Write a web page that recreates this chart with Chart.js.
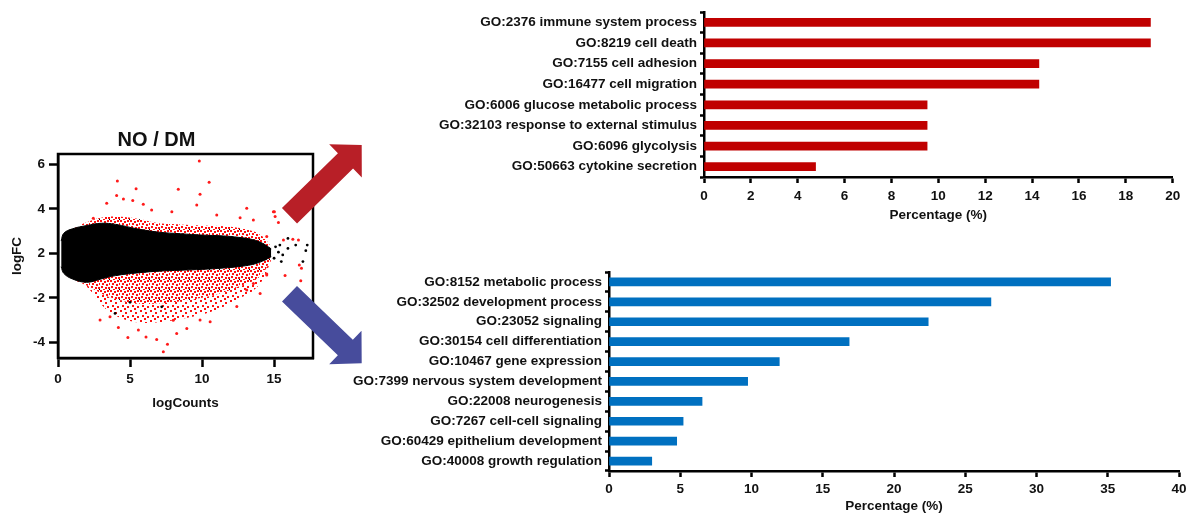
<!DOCTYPE html>
<html>
<head>
<meta charset="utf-8">
<title>NO / DM - MA plot and GO terms</title>
<script src="https://cdn.jsdelivr.net/npm/chart.js@4.4.0/dist/chart.umd.min.js"></script>
<style>
  html, body { margin: 0; padding: 0; background: #fff; }
  #page { position: relative; width: 1192px; height: 518px; overflow: hidden; }
  canvas { position: absolute; }
</style>
</head>
<body>
<div id="page">
  <canvas id="maPlot" width="370" height="310" style="left:0;top:110px"></canvas>
  <canvas id="upChart" width="812" height="230" style="left:380px;top:0"></canvas>
  <canvas id="downChart" width="892" height="263" style="left:300px;top:255px"></canvas>
</div>
<script>
// ---- MA plot (NO / DM) ----
const maTickX = [0, 5, 10, 15];
const maTickY = [4, 2, 0, -2, -4];
const maTickYLabels = ['6', '4', '2', '-2', '-4'];

// outline of the dense cloud
const cloudX         = [0.22, 0.4, 1.0, 2.0, 3.0, 4.0, 5.5, 7.0, 8.5, 10.0, 11.5, 12.5, 13.5, 14.2, 14.8];
const blackTop       = [0.55, 0.9, 1.1, 1.25, 1.35, 1.3, 1.1, 0.95, 0.88, 0.82, 0.78, 0.72, 0.62, 0.45, 0.2];
const blackBottom    = [-0.6, -0.9, -1.15, -1.3, -1.15, -1.0, -0.88, -0.8, -0.76, -0.72, -0.66, -0.6, -0.5, -0.35, -0.15];
const redTop         = [0.55, 0.9, 1.1, 1.4, 1.6, 1.65, 1.55, 1.35, 1.3, 1.25, 1.22, 1.15, 1.0, 0.75, 0.3];
const redBottomInner = [-0.6, -0.9, -1.15, -1.45, -1.8, -2.05, -2.25, -2.25, -2.15, -2.0, -1.75, -1.5, -1.25, -0.9, -0.25];
const redBottom      = [-0.6, -0.9, -1.15, -1.5, -2.3, -2.8, -3.1, -3.1, -2.95, -2.75, -2.4, -2.05, -1.7, -1.2, -0.3];

// isolated points
const redOutX = [9.81, 4.12, 10.49, 5.42, 8.35, 9.86, 4.07, 4.54, 5.19, 3.38, 13.1, 5.92, 9.63, 6.5, 12.64, 7.9, 11.02, 2.45, 13.56, 14.95, 15.07, 14.49,
                 15.02, 15.3, 15.65, 16.3, 16.69, 16.75, 16.9, 14.49, 15.76, 16.85,
                 7.31, 7.6, 4.85, 6.85, 6.11, 4.19, 8.24, 8.94, 9.86, 10.56, 8.0, 2.92, 12.41, 13.1, 14.03, 14.49, 13.56, 3.61, 5.58];
const redOutY = [4.15, 3.25, 3.19, 2.9, 2.88, 2.65, 2.6, 2.44, 2.37, 2.25, 2.02, 2.2, 2.17, 1.95, 1.6, 1.87, 1.72, 1.57, 1.5, 1.87, 1.65, 0.75,
                 1.87, 1.38, 0.6, 0.63, 0.6, -0.52, -0.67, -0.93, -1.0, -1.23,
                 -4.42, -4.08, -3.78, -3.87, -3.76, -3.33, -3.6, -3.37, -2.99, -3.07, -3.0, -2.99, -2.39, -1.65, -1.8, -0.97, -1.35, -2.85, -3.44];
const blackOutX = [14.3, 14.6, 15.1, 15.4, 15.96, 16.5, 17.3, 17.2, 15.96, 15.6, 15.0, 17.0, 15.5, 14.4, 15.3, 3.96, 5.0, 7.2];
const blackOutY = [0.3, 0.1, 0.29, 0.37, 0.67, 0.37, 0.37, 0.12, 0.22, -0.07, -0.22, -0.37, -0.37, -0.25, 0.05, -2.7, -2.2, -2.4];

// ---- GO terms, up-regulated ----
const upTerms = ['GO:2376 immune system process', 'GO:8219 cell death', 'GO:7155 cell adhesion', 'GO:16477 cell migration',
                 'GO:6006 glucose metabolic process', 'GO:32103 response to external stimulus', 'GO:6096 glycolysis', 'GO:50663 cytokine secretion'];
const upPercent = [19.05, 19.05, 14.29, 14.29, 9.52, 9.52, 9.52, 4.76];
const upTicks = [0, 2, 4, 6, 8, 10, 12, 14, 16, 18, 20];

// ---- GO terms, down-regulated ----
const downTerms = ['GO:8152 metabolic process', 'GO:32502 development process', 'GO:23052 signaling', 'GO:30154 cell differentiation',
                   'GO:10467 gene expression', 'GO:7399 nervous system development', 'GO:22008 neurogenesis', 'GO:7267 cell-cell signaling',
                   'GO:60429 epithelium development', 'GO:40008 growth regulation'];
const downPercent = [35.2, 26.8, 22.4, 16.85, 11.95, 9.73, 6.53, 5.2, 4.75, 3.0];
const downTicks = [0, 5, 10, 15, 20, 25, 30, 35, 40];

const FONT = "'Liberation Sans', Arial, sans-serif";
const INK = '#111';
Chart.defaults.font.family = FONT;
Chart.defaults.color = INK;

function zip(xs, ys) {
  return xs.map((x, i) => ({ x: x, y: ys[i] }));
}

// speckled fill for the red (significant) part of the cloud
function speckle(color, dots, extra) {
  const c = document.createElement('canvas');
  c.width = 10; c.height = 10;
  const g = c.getContext('2d');
  g.fillStyle = color;
  dots.forEach(p => g.fillRect(p[0], p[1], 2, 2));
  if (extra) {
    g.fillStyle = '#000';
    g.fillRect(extra[0], extra[1], 2, 2);
  }
  return g.createPattern(c, 'repeat');
}

const denseDots = [[0, 0], [4, 1], [7, 0], [2, 3], [6, 4], [9, 3], [1, 6], [5, 7], [8, 7], [3, 9]];
const sparseDots = [[0, 0], [5, 2], [2, 5], [7, 6], [4, 8]];

const boldFont = (size) => ({ family: FONT, size: size, weight: 'bold' });

// closed frame around the MA plot + the two arrows
const frameAndArrows = {
  id: 'frameAndArrows',
  afterDraw(chart) {
    const ctx = chart.ctx;
    const a = chart.chartArea;
    ctx.save();
    ctx.strokeStyle = '#000';
    ctx.lineWidth = 2.5;
    ctx.strokeRect(a.left, a.top, a.right - a.left, a.bottom - a.top);
    // arrows, in canvas coords (canvas sits 110px down the page)
    drawArrow(ctx, 289.5, 105.8, 361.7, 35, 10.8, 23.3, 22.7, '#b81f27');
    drawArrow(ctx, 289.5, 183.8, 361.7, 253.3, 10.8, 23.3, 22.7, '#474c9c');
    ctx.restore();
  }
};

function drawArrow(ctx, x0, y0, x1, y1, shaftHalf, headHalf, headLen, color) {
  const len = Math.hypot(x1 - x0, y1 - y0);
  const dx = (x1 - x0) / len, dy = (y1 - y0) / len;
  const nx = -dy, ny = dx;
  const bx = x1 - dx * headLen, by = y1 - dy * headLen;
  ctx.beginPath();
  ctx.moveTo(x0 + nx * shaftHalf, y0 + ny * shaftHalf);
  ctx.lineTo(bx + nx * shaftHalf, by + ny * shaftHalf);
  ctx.lineTo(bx + nx * headHalf, by + ny * headHalf);
  ctx.lineTo(x1, y1);
  ctx.lineTo(bx - nx * headHalf, by - ny * headHalf);
  ctx.lineTo(bx - nx * shaftHalf, by - ny * shaftHalf);
  ctx.lineTo(x0 - nx * shaftHalf, y0 - ny * shaftHalf);
  ctx.closePath();
  ctx.fillStyle = color;
  ctx.fill();
}

const denseRed = speckle('#ff1010', denseDots, [9, 9]);
const sparseRed = speckle('#ff1010', sparseDots);
const edge = { type: 'line', pointRadius: 0, borderWidth: 1, tension: 0.4 };
const clear = 'rgba(0,0,0,0)';

new Chart(document.getElementById('maPlot'), {
  type: 'scatter',
  data: {
    datasets: [
      { label: 'up/down', data: zip(redOutX, redOutY), backgroundColor: '#ff1a1a', borderWidth: 0, pointRadius: 1.5 },
      { label: 'ns', data: zip(blackOutX, blackOutY), backgroundColor: '#000', borderWidth: 0, pointRadius: 1.4 },
      { ...edge, label: 'cloud top', data: zip(cloudX, blackTop), borderColor: '#000', fill: false },
      { ...edge, label: 'cloud bottom', data: zip(cloudX, blackBottom), borderColor: '#000', fill: 2, backgroundColor: '#000' },
      { ...edge, label: 'red top', data: zip(cloudX, redTop), borderColor: clear, fill: 2, backgroundColor: denseRed },
      { ...edge, label: 'red bottom inner', data: zip(cloudX, redBottomInner), borderColor: clear, fill: 3, backgroundColor: denseRed },
      { ...edge, label: 'red bottom', data: zip(cloudX, redBottom), borderColor: clear, fill: 5, backgroundColor: sparseRed }
    ]
  },
  options: {
    responsive: false,
    animation: false,
    events: [],
    layout: { padding: { left: 0, right: 57, top: 0, bottom: 0 } },
    plugins: {
      legend: { display: false },
      tooltip: { enabled: false },
      title: { display: true, text: 'NO / DM', font: boldFont(20), color: INK, padding: { top: 18, bottom: 2 } }
    },
    scales: {
      x: {
        type: 'linear', min: 0, max: 17.7,
        afterBuildTicks: (s) => { s.ticks = maTickX.map(v => ({ value: v })); },
        afterFit: (s) => { s.height = 62; },
        border: { color: '#000', width: 2.5 },
        grid: { drawOnChartArea: false, tickLength: 9, tickWidth: 2.5, tickColor: '#000' },
        ticks: { font: boldFont(13.5), color: INK, padding: 4, maxRotation: 0 },
        title: { display: true, text: 'logCounts', font: boldFont(13.5), color: INK, padding: { top: 0, bottom: 9 } }
      },
      y: {
        type: 'linear', min: -4.7, max: 4.46,
        afterBuildTicks: (s) => { s.ticks = maTickY.map(v => ({ value: v })); },
        afterFit: (s) => { s.width = 58; },
        border: { color: '#000', width: 2.5 },
        grid: { drawOnChartArea: false, tickLength: 9, tickWidth: 2.5, tickColor: '#000' },
        ticks: { font: boldFont(13.5), color: INK, padding: 4, callback: (v) => maTickYLabels[maTickY.indexOf(v)] },
        title: { display: true, text: 'logFC', font: boldFont(13.5), color: INK, padding: { top: 9, bottom: 0 } }
      }
    }
  },
  plugins: [frameAndArrows]
});

// horizontal GO bar chart
function goChart(id, terms, values, ticks, max, color, box) {
  return new Chart(document.getElementById(id), {
    type: 'bar',
    data: {
      labels: terms,
      datasets: [{ data: values, backgroundColor: color, borderWidth: 0, barThickness: 8 }]
    },
    options: {
      indexAxis: 'y',
      responsive: false,
      animation: false,
      events: [],
      layout: { padding: { left: 0, right: box.right, top: box.top, bottom: 0 } },
      plugins: { legend: { display: false }, tooltip: { enabled: false } },
      scales: {
        x: {
          type: 'linear', min: 0, max: max,
          afterBuildTicks: (s) => { s.ticks = ticks.map(v => ({ value: v })); },
          afterFit: (s) => { s.height = box.xHeight; },
          border: { color: '#000', width: 2.5 },
          grid: { drawOnChartArea: false, tickLength: 6, tickWidth: 2.5, tickColor: '#000' },
          ticks: { font: boldFont(13.5), color: INK, padding: box.tickPad, maxRotation: 0 },
          title: { display: true, text: 'Percentage (%)', font: boldFont(13.5), color: INK, padding: { top: 0, bottom: box.titlePad } }
        },
        y: {
          afterFit: (s) => { s.width = box.yWidth; },
          border: { color: '#000', width: 2.5 },
          grid: { offset: true, drawOnChartArea: false, tickLength: 4, tickWidth: 2.5, tickColor: '#000' },
          ticks: { font: boldFont(13.5), color: INK, padding: 3, autoSkip: false }
        }
      }
    }
  });
}

goChart('upChart', upTerms, upPercent, upTicks, 20, '#c00000',
  { yWidth: 324, right: 19.3, top: 12, xHeight: 53, tickPad: 5, titlePad: 7 });
goChart('downChart', downTerms, downPercent, downTicks, 40, '#0070c0',
  { yWidth: 309, right: 13, top: 17, xHeight: 47, tickPad: 4, titlePad: 4 });
</script>
</body>
</html>
